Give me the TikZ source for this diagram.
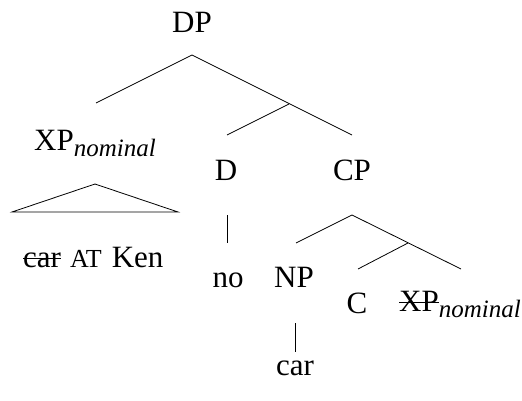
\documentclass[tikz,border=0pt]{standalone}
\usepackage{fontspec}
\setmainfont{Liberation Serif}
\newsavebox{\stbox}
\newcommand{\strike}[1]{\sbox{\stbox}{#1}\rlap{\rule[0.27em]{\wd\stbox}{1pt}}\usebox{\stbox}}
\newcommand{\nomsub}{\raisebox{-6pt}{\fontsize{25}{30}\selectfont\itshape nominal}}
\newcommand{\smcap}[1]{{\fontsize{26}{26}\selectfont #1}}
\begin{document}
\begin{tikzpicture}[x=1pt,y=-1pt,
  lbl/.style={anchor=base, inner sep=0pt, font=\fontsize{31}{36}\selectfont},
  lblw/.style={lbl, anchor=base west},
  br/.style={line width=0.8pt}]
\useasboundingbox (0,0) rectangle (522,401);
% labels
\node[lbl]  (dp)  at (192,33)  {DP};
\node[lblw] (xp)  at (34,150)  {XP\nomsub};
\node[lblw] (ken) at (23,267)  {\strike{car}\hspace{9pt}\smcap{AT}\hspace{10pt}Ken};
\node[lbl]  (d)   at (226,180) {D};
\node[lbl]  (cp)  at (352,180) {CP};
\node[lbl]  (no)  at (228,287) {no};
\node[lbl]  (np)  at (294,287) {NP};
\node[lbl]  (c)   at (357,313) {C};
\node[lblw] (xp2) at (399,311) {\strike{XP}\nomsub};
\node[lbl]  (car) at (295,375) {car};
% branch points
\coordinate (dptop) at (192,55);
\coordinate (xpend) at (96,103);
\coordinate (cpend) at (352,135);
\coordinate (dbar)  at (289,104);
\coordinate (dend)  at (227,135);
\coordinate (tria)  at (95,184);
\coordinate (tril)  at (12,212);
\coordinate (trir)  at (178,212);
\coordinate (dlt)   at (227,215);
\coordinate (dlb)   at (227,243);
\coordinate (cptop) at (352,215);
\coordinate (npend) at (296,243);
\coordinate (cbar)  at (408,243);
\coordinate (xpend2) at (461,269);
\coordinate (cend)  at (358,269);
\coordinate (nplt)  at (295,323);
\coordinate (nplb)  at (295,352);
% lines
\draw[br] (xpend) -- (dptop) -- (cpend);
\draw[br] (dbar) -- (dend);
\draw[br] (tria) -- (tril) -- (trir) -- cycle;
\draw[br] (dlt) -- (dlb);
\draw[br] (npend) -- (cptop) -- (xpend2);
\draw[br] (cbar) -- (cend);
\draw[br] (nplt) -- (nplb);
\end{tikzpicture}
\end{document}
